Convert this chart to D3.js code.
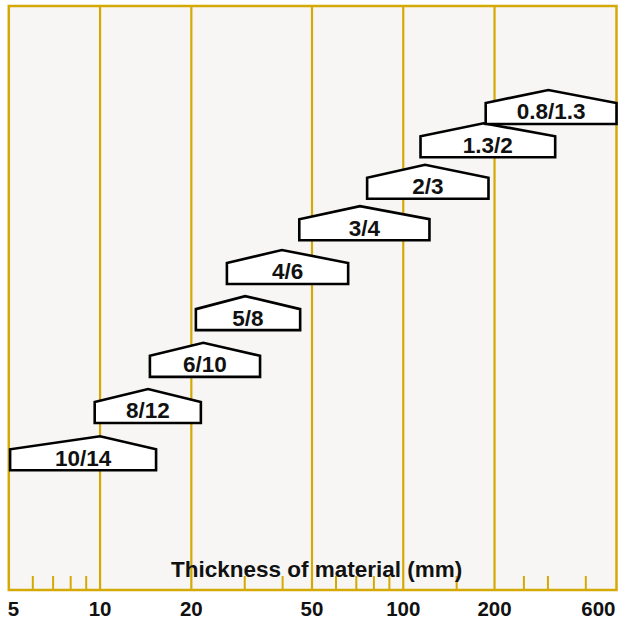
<!DOCTYPE html>
<html>
<head>
<meta charset="utf-8">
<script src="https://cdn.jsdelivr.net/npm/d3@7"></script>
<style>
  html, body { margin: 0; padding: 0; background: #ffffff; }
  svg { display: block; }
  text { font-family: "Liberation Sans", Arial, sans-serif; font-weight: bold; fill: #111; }
</style>
</head>
<body>
<svg id="chart" width="619" height="621"></svg>
<script>
// ---- data ----
const labels = ["10/14", "8/12", "6/10", "5/8", "4/6", "3/4", "2/3", "1.3/2", "0.8/1.3"];
const minThickness = [5.05, 9.6, 14.6, 20.7, 26.2, 45.4, 76, 114, 187];
const peakThickness = [10, 14.4, 21.9, 30.1, 39.8, 72, 118, 184, 301];
const maxThickness = [15.3, 21.5, 33.7, 45.7, 65.8, 122, 191, 317, 505];
const level = [20.5, 28.6, 36.5, 44.5, 52.4, 59.9, 67.0, 74.1, 79.8];
const majorTicks = [10, 20, 50, 100, 200];
const minorTicks = [6, 7, 8, 9, 30, 40, 60, 70, 80, 90, 150, 250, 300, 400];
const tickLabels = [5, 10, 20, 50, 100, 200, 600];
const axisTitle = "Thickness of material (mm)";

// ---- layout ----
(function () {
const svg = d3.select("#chart");
const pLeft = 8.8, pRight = 616.5, pTop = 6, pBottom = 590;
const gold = "#d4a906";

const x = d3.scaleLog().domain([5, 505]).range([pLeft, pRight]).clamp(true);
const y = d3.scaleLinear().domain([0, 100]).range([pBottom, pTop]);

svg.append("rect")
  .attr("x", pLeft).attr("y", pTop)
  .attr("width", pRight - pLeft).attr("height", pBottom - pTop)
  .attr("fill", "#f7f6f4");

svg.append("g").selectAll("line").data(majorTicks).join("line")
  .attr("x1", d => x(d)).attr("x2", d => x(d))
  .attr("y1", pTop).attr("y2", pBottom)
  .attr("stroke", gold).attr("stroke-width", 2.2);

svg.append("g").selectAll("line").data(minorTicks).join("line")
  .attr("x1", d => x(d)).attr("x2", d => x(d))
  .attr("y1", pBottom - 14).attr("y2", pBottom)
  .attr("stroke", gold).attr("stroke-width", 2);

svg.append("rect")
  .attr("x", pLeft).attr("y", pTop)
  .attr("width", pRight - pLeft).attr("height", pBottom - pTop)
  .attr("fill", "none").attr("stroke", gold).attr("stroke-width", 2.5);

// axis title
svg.append("text")
  .attr("x", (pLeft + pRight) / 2 + 4).attr("y", 577)
  .attr("text-anchor", "middle")
  .attr("font-size", 22.5)
  .text(axisTitle);

// tick labels
const n = tickLabels.length;
svg.append("g").selectAll("text").data(tickLabels).join("text")
  .attr("x", (d, i) => (i === 0 || i === n - 1) ? x(d) - 1 : x(d))
  .attr("y", 616)
  .attr("text-anchor", (d, i) => i === 0 ? "start" : (i === n - 1 ? "end" : "middle"))
  .attr("font-size", 20.5)
  .text(d => d);

// house-shaped range markers
const bodyH = 21, roofH = 13;
const data = labels.map((l, i) => ({
  label: l, lo: minThickness[i], pk: peakThickness[i], hi: maxThickness[i], lv: level[i]
}));

const g = svg.append("g");
data.forEach(d => {
  const yb = y(d.lv);
  const x0 = x(d.lo), x1 = x(d.hi), xp = x(d.pk);
  const pts = [[x0, yb], [x0, yb - bodyH], [xp, yb - bodyH - roofH], [x1, yb - bodyH], [x1, yb]];
  g.append("path")
    .attr("d", d3.line()(pts) + "Z")
    .attr("fill", "#ffffff")
    .attr("stroke", "#000")
    .attr("stroke-width", 2.6)
    .attr("stroke-linejoin", "miter");
  g.append("text")
    .attr("x", (x0 + x1) / 2)
    .attr("y", yb - 4.5)
    .attr("text-anchor", "middle")
    .attr("font-size", 22.5)
    .text(d.label);
});
})();
</script>
</body>
</html>
